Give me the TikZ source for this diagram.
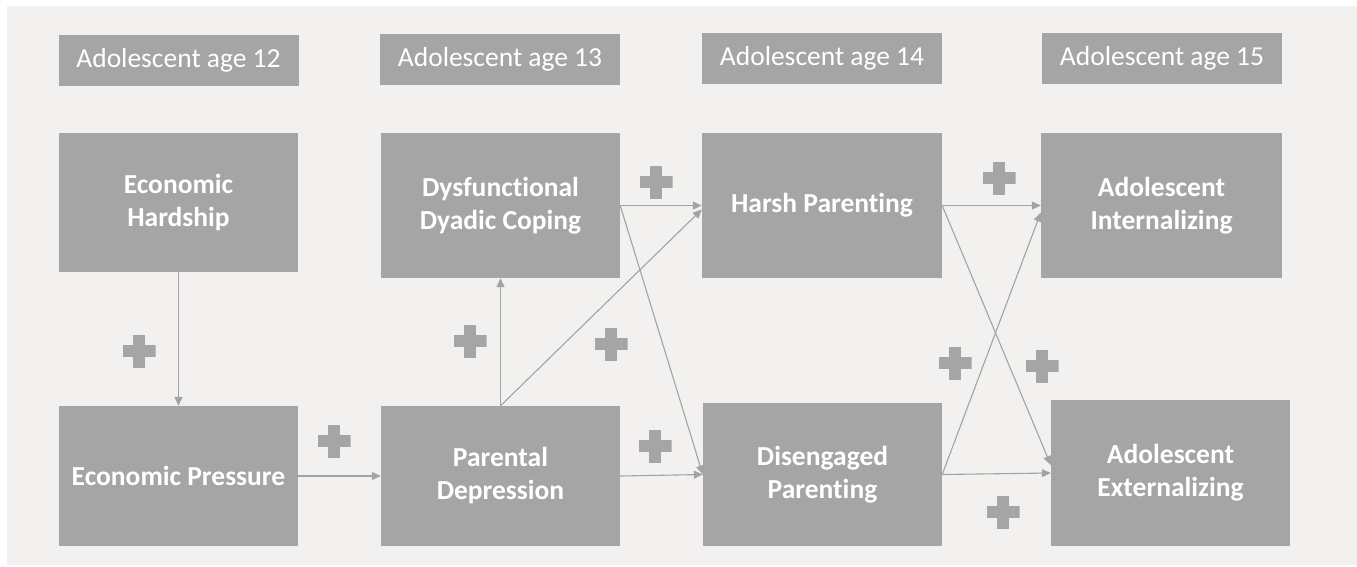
\documentclass[tikz,border=0pt]{standalone}
\usepackage{fontspec}
\setmainfont{Carlito}
\usetikzlibrary{arrows.meta}

% keeps "t" and "i" as separate glyphs
\newcommand\split{\kern0pt\relax}

\definecolor{boxgray}{HTML}{A5A5A5}
\definecolor{linegray}{HTML}{A3A3A3}
\definecolor{paper}{HTML}{F2F1EF}

\tikzset{
  agebox/.style={fill=boxgray, draw=none, text=white, inner sep=0pt,
    minimum width=240pt, minimum height=51pt,
    font=\fontsize{27.5}{32}\selectfont},
  varbox/.style={fill=boxgray, draw=none, text=white, inner sep=0pt,
    minimum width=239pt, align=center,
    font=\fontsize{27.5}{33}\selectfont\bfseries},
  link/.style={draw=linegray, line width=1.1pt,
    -{Triangle[length=9pt,width=8pt]}},
  plussign/.style={minimum size=33pt, inner sep=0pt,
    path picture={
      \fill[boxgray] ([yshift=-6pt]path picture bounding box.west)
        rectangle ([yshift=6pt]path picture bounding box.east);
      \fill[boxgray] ([xshift=-6pt]path picture bounding box.south)
        rectangle ([xshift=6pt]path picture bounding box.north);
    }},
}

\begin{document}
\begin{tikzpicture}[x=1pt, y=-1pt]
  \useasboundingbox (0,0) rectangle (1357,566);
  \fill[paper] (7,6) rectangle (1357,565);

  % wave labels
  \node[agebox] (a12) at (178.5,60.5) {Adolescent age 12};
  \node[agebox] (a13) at (500,59.5)   {Adolescent age 13};
  \node[agebox] (a14) at (822,58.5)   {Adolescent age 14};
  \node[agebox] (a15) at (1162,58.5)  {Adolescent age 15};

  % constructs
  \node[varbox, minimum height=139pt] (hard)  at (178.5,202.5) {Economic\\Hardship};
  \node[varbox, minimum height=140pt] (press) at (178.5,476)   {Economic Pressure};
  \node[varbox, minimum height=145pt] (cope)  at (500.5,205.5) {Dysfunct\split ional\\Dyadic Coping};
  \node[varbox, minimum height=140pt] (dep)   at (500.5,476)   {Parental\\Depression};
  \node[varbox, minimum width=240pt, minimum height=145pt] (harsh) at (822,205.5) {Harsh Parent\split ing};
  \node[varbox, minimum height=143pt] (dis)   at (822.5,474.5) {Disengaged\\Parent\split ing};
  \node[varbox, minimum width=241pt, minimum height=145pt] (int) at (1161.5,205.5) {Adolescent\\Internalizing};
  \node[varbox, minimum height=146pt] (ext)   at (1170.5,473)  {Adolescent\\Externalizing};

  % paths
  \draw[link] (hard.south) -- (press.north);
  \draw[link] (press.east) -- (dep.west);
  \draw[link] (dep.north) -- (cope.south);
  \draw[link] (dep.north) -- ([yshift=-4pt]harsh.west);
  \draw[link] (cope.east) -- (harsh.west);
  \draw[link] (cope.east) -- (dis.west);
  \draw[link] (dep.east) -- (dis.west);
  \draw[link] (harsh.east) -- (int.west);
  \draw[link] (harsh.east) -- ([yshift=8pt]ext.west);
  \draw[link] (dis.east) -- ([yshift=-7pt]int.west);
  \draw[link] (dis.east) -- (ext.west);

  % positive-effect signs
  \node[plussign] (p1)  at (139,351) {};
  \node[plussign] (p2)  at (334,441) {};
  \node[plussign] (p3)  at (470,341) {};
  \node[plussign] (p4)  at (611,344) {};
  \node[plussign] (p5)  at (656,182) {};
  \node[plussign] (p6)  at (655,446) {};
  \node[plussign] (p7)  at (999,178) {};
  \node[plussign] (p8)  at (955,363) {};
  \node[plussign] (p9)  at (1042,366) {};
  \node[plussign] (p10) at (1003,512) {};
\end{tikzpicture}
\end{document}
